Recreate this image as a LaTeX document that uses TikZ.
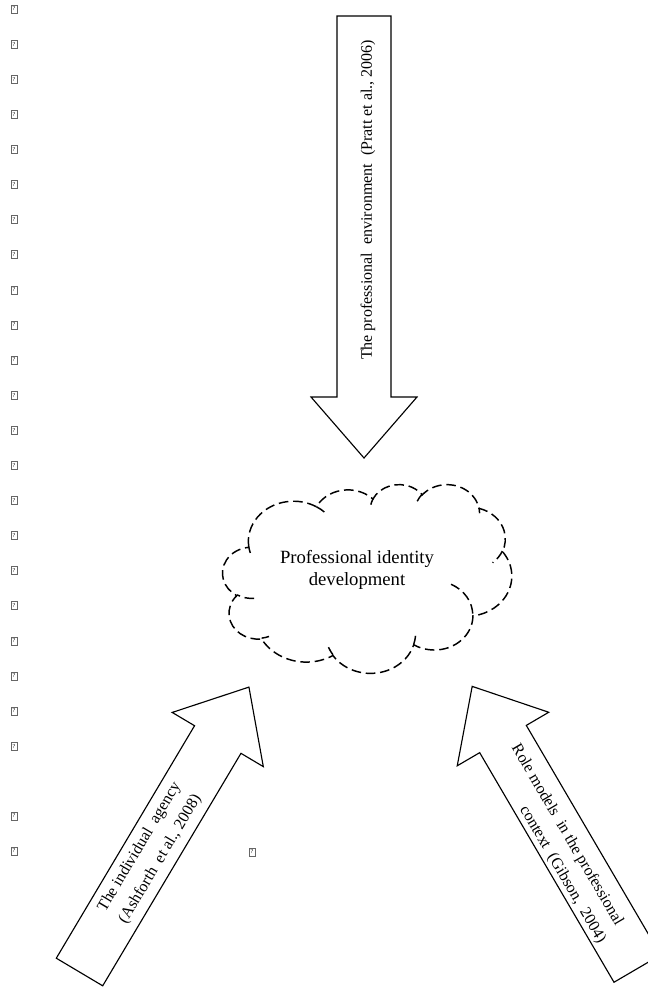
\documentclass[tikz,border=0pt]{standalone}
\usepackage{fontspec}
\setmainfont{Liberation Serif}

% Block arrow: base midpoint, direction (degrees), total length.
% Shaft half-width 27, head half-width 53, head length 61.
\newcommand\blockarrow[4]{%
  \draw[blockline, shift={#2}, rotate=#3] (0,-27) -- (#4-61,-27) -- (#4-61,-53)
    -- (#4,0) -- (#4-61,53) -- (#4-61,27) -- (0,27) -- cycle;
  \coordinate (#1) at #2;}

% Elliptical arc given by radii, start angle and sweep (polar angles, y down).
\newcommand\cloudarc[4]{%
  arc[x radius=#1, y radius=#2,
      start angle={atan2(#1*sin(#3), #2*cos(#3))},
      delta angle={mod(atan2(#1*sin(#3+#4), #2*cos(#3+#4))
                   - atan2(#1*sin(#3), #2*cos(#3)) + 720, 360)}]}

\begin{document}
\begin{tikzpicture}[x=0.75pt, y=-0.75pt,
  blockline/.style={draw=black, line width=0.85pt, line join=miter, miter limit=10},
  cloudline/.style={draw=black, line width=1.1pt, dash pattern=on 7.2pt off 3.6pt},
  arrowtext/.style={font=\fontsize{12pt}{18pt}\selectfont, inner sep=0pt, align=center},
  cloudtext/.style={font=\fontsize{14pt}{16.7pt}\selectfont, inner sep=0pt, align=center},
  glyphbox/.style={draw=black!60, line width=0.45pt, minimum width=4.5pt,
    minimum height=6pt, inner sep=0pt, font=\fontsize{4.5pt}{5pt}\selectfont}]

\useasboundingbox (0,0) rectangle (647,988);

% column of placeholder glyphs at the left margin
\foreach \k in {0,...,21}
  \node[glyphbox] (g\k) at (14, 9+35.1*\k) {?};
\node[glyphbox] (g22) at (14,816) {?};
\node[glyphbox] (g23) at (14,851) {?};
\node[glyphbox] (g24) at (252,852) {?};

% three block arrows pointing at the cloud
\blockarrow{envbase}{(364,16)}{-90}{442}
\blockarrow{agencybase}{(79.5,972)}{59.26}{331.5}
\blockarrow{rolebase}{(637.3,968.6)}{120.33}{327}

% cloud outline
\begin{scope}[shift={(222.7,484)}, x=0.50174pt, y=-0.32760pt]
  \draw[cloudline] (39.00,143.70)
    \cloudarc{67.53}{91.90}{-190.4875}{123.7805}
    \cloudarc{53.33}{72.67}{-144.1024}{89.9452}
    \cloudarc{43.65}{59.45}{-145.8079}{99.7230}
    \cloudarc{48.57}{65.95}{-130.9861}{117.2417}
    \cloudarc{53.33}{72.73}{-78.7089}{109.0269}
    \cloudarc{67.75}{92.20}{-46.2673}{130.2690}
    \cloudarc{57.85}{78.67}{0.6250}{114.0333}
    \cloudarc{67.52}{92.15}{22.4516}{115.1726}
    \cloudarc{77.20}{105.43}{66.2426}{75.7110}
    \cloudarc{43.60}{59.18}{-274.9421}{146.7356}
    \cloudarc{43.45}{59.45}{-246.8285}{152.5189}
    -- cycle;
  \draw[cloudline]
    (46.93,261.77) \cloudarc{43.45}{59.45}{86.7420}{26.4295}
    (69.28,348.99) \cloudarc{43.60}{59.18}{73.6105}{11.4475}
    (164.78,390.90) \cloudarc{67.52}{92.15}{137.6242}{14.0811}
    (288.27,347.51) \cloudarc{67.52}{92.15}{6.4533}{15.9984}
    (341.29,229.54) \cloudarc{57.85}{78.67}{-70.2924}{70.9174}
    (417.98,153.54) \cloudarc{53.33}{72.73}{30.3180}{27.7515}
    (383.24,54.26) \cloudarc{48.57}{65.95}{-13.7443}{14.8589}
    (290.78,39.52) \cloudarc{48.57}{65.95}{-149.1815}{18.1954}
    (221.41,47.20) \cloudarc{43.65}{59.45}{-163.4943}{17.6864}
    (140.00,51.92) \cloudarc{67.53}{91.90}{-66.7070}{12.3194}
    (41.27,157.89) \cloudarc{67.53}{91.90}{157.6544}{11.8582};
\end{scope}

% labels
\node[cloudtext] (core) at (357,570) {Professional identity\\development};
\node[arrowtext, rotate=90] (env) at (368,200)
  {The professional~ environment~ (Pratt et al., 2006)};
\node[arrowtext, rotate=59.26] (agency) at (150,853.3)
  {The individual~ agency\\(Ashforth~ et al., 2008)};
\node[arrowtext, rotate=-59.67] (role1) at (567,835)
  {Role models~ in the professional};
\node[arrowtext, rotate=-59.67] (role2) at (562.4,874.5)
  {context~ (Gibson,~ 2004)};
\end{tikzpicture}
\end{document}
